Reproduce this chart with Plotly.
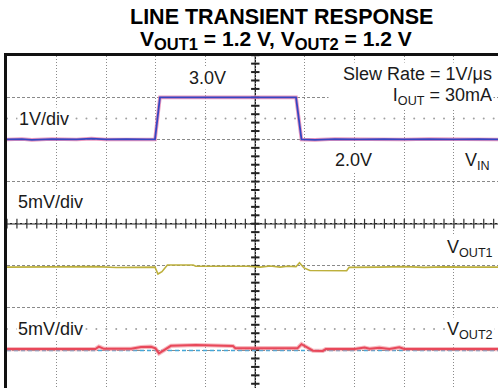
import numpy as np
import plotly.graph_objects as go

# ---------------- data (read from the scope capture) ----------------
# time in microseconds (10 us / div), VIN in volts (1 V/div),
# VOUT deviations in mV (5 mV/div)
vin_t = [0, 3, 5, 9, 14, 17, 20, 24, 28, 29.8, 30.8, 40, 50, 58.2, 59.3,
         62, 66, 71, 76, 80, 85, 90, 95, 98.9]
vin_v = [2.00, 2.01, 1.99, 2.01, 2.00, 2.02, 2.00, 2.01, 2.00, 2.00, 3.00, 3.00,
         3.00, 3.00, 2.00, 1.99, 2.01, 2.00, 2.01, 2.00, 2.01, 2.00, 2.01, 2.00]

vout1_t = [0, 4, 7, 12, 18, 22, 26, 29.8, 30.4, 31.2, 32.3, 37.5, 38.0, 48.5,
           51, 53, 55, 56.5, 58.2, 58.9, 59.8, 61.0, 68.4, 68.9, 75, 80, 84, 88,
           93, 98.9]
vout1_mv = [-0.15, -0.15, -0.10, -0.15, -0.10, -0.20, -0.15, -0.15, -0.97, -0.70,
            0.10, 0.10, -0.05, -0.05, -0.15, -0.02, -0.15, -0.05, -0.10, 0.37,
            -0.25, -0.55, -0.58, -0.18, -0.15, -0.10, -0.18, -0.12, -0.15, -0.15]

vout2_t = [0, 8, 12, 17.8, 18.5, 19.5, 25, 27, 29, 29.9, 30.6, 31.5, 33, 38, 42,
           45.5, 46, 52, 58.5, 59.3, 60.3, 61.6, 63.6, 64.2, 70, 72, 73, 75, 77,
           79, 80, 88, 93, 98.9]
vout2_mv = [0.12, 0.12, 0.15, 0.12, 0.40, 0.15, 0.15, 0.35, 0.40, 0.20, -0.39,
            -0.05, 0.50, 0.60, 0.55, 0.48, 0.22, 0.20, 0.22, 0.70, 0.40, -0.08,
            -0.10, 0.12, 0.12, 0.30, 0.15, 0.28, 0.12, 0.32, 0.14, 0.12, 0.15, 0.12]

ref2_t = [0, 98.9]
ref2_mv = [-0.05, -0.05]

# scope settings (channel scale / offsets in divisions)
T_PER_DIV = 10.0
VIN_PER_DIV = 1.0
MV_PER_DIV = 5.0
CH1_OFFSET = -1.0
CH2_OFFSET = -3.0

W, H = 498, 388
L, T = 7, 56
X_MAX = (W - L) / 49.66
Y_TOP = (223.7 - T) / 42.12
Y_BOT = (223.7 - H) / 42.12

FONT = "Liberation Sans, Arial, Helvetica, sans-serif"


def xd(t):
    return np.asarray(t, float) / T_PER_DIV


fig = go.Figure()

# graticule dot rows at +/-2.5 div
gx = np.arange(0, X_MAX, 0.2)
fig.add_trace(go.Scatter(x=np.concatenate([gx, gx]),
                         y=np.concatenate([np.full(gx.size, 2.5), np.full(gx.size, -2.5)]),
                         mode="markers", marker=dict(size=2.0, color="#a0a0a0"),
                         hoverinfo="skip", showlegend=False))
# crosshair minor ticks
fig.add_trace(go.Scatter(x=gx, y=np.zeros(gx.size), mode="markers",
                         marker=dict(symbol="line-ns", size=7, line=dict(width=1.2, color="#333")),
                         hoverinfo="skip", showlegend=False))
gy = np.arange(-4, 4.01, 0.2)
fig.add_trace(go.Scatter(x=np.full(gy.size, 5.0), y=gy, mode="markers",
                         marker=dict(symbol="line-ew", size=6, line=dict(width=2, color="#222")),
                         hoverinfo="skip", showlegend=False))

# VIN (blue with pink halo)
fig.add_trace(go.Scatter(x=xd(vin_t), y=np.asarray(vin_v) / VIN_PER_DIV, mode="lines",
                         line=dict(color="rgba(230,120,170,0.75)", width=3.6),
                         hoverinfo="skip", showlegend=False))
fig.add_trace(go.Scatter(x=xd(vin_t), y=np.asarray(vin_v) / VIN_PER_DIV, mode="lines",
                         line=dict(color="#3546c2", width=1.8), name="VIN", showlegend=False))

# VOUT1 (olive)
fig.add_trace(go.Scatter(x=xd(vout1_t), y=CH1_OFFSET + np.asarray(vout1_mv) / MV_PER_DIV,
                         mode="lines", line=dict(color="#bdb03c", width=1.6),
                         name="VOUT1", showlegend=False))

# VOUT2 reference (cyan) and trace (red with halo)
fig.add_trace(go.Scatter(x=xd(ref2_t), y=CH2_OFFSET + np.asarray(ref2_mv) / MV_PER_DIV,
                         mode="lines", line=dict(color="#45a8d8", width=1.4, dash="4px,3px"),
                         hoverinfo="skip", showlegend=False))
fig.add_trace(go.Scatter(x=xd(vout2_t), y=CH2_OFFSET + np.asarray(vout2_mv) / MV_PER_DIV,
                         mode="lines", line=dict(color="rgba(240,130,140,0.55)", width=4.2),
                         hoverinfo="skip", showlegend=False))
fig.add_trace(go.Scatter(x=xd(vout2_t), y=CH2_OFFSET + np.asarray(vout2_mv) / MV_PER_DIV,
                         mode="lines", line=dict(color="#e8485a", width=2.0),
                         name="VOUT2", showlegend=False))

# crosshair lines
fig.add_shape(type="line", xref="x", yref="y", x0=5, x1=5, y0=Y_BOT, y1=Y_TOP,
              line=dict(color="#111", width=1.3), layer="below")
fig.add_shape(type="line", xref="x", yref="y", x0=0, x1=X_MAX, y0=0, y1=0,
              line=dict(color="#222", width=1.6), layer="below")


def P(px, py):
    return (px - L) / (W - L), (H - py) / (H - T)


def label(text, px, py, xanchor, size=18, width=None, align="left"):
    x, y = P(px, py)
    fig.add_annotation(text=text, x=x, y=y, xref="paper", yref="paper",
                       xanchor=xanchor, yanchor="middle", showarrow=False,
                       font=dict(family=FONT, size=size, color="#1a1a1a"),
                       bgcolor="white", borderpad=1, width=width, align=align)


label("3.0V", 207, 78.5, "center")
label("Slew Rate = 1V/\u03bcs", 494, 74, "right", width=162, align="right")
label("I<sub>OUT</sub> = 30mA", 494, 96, "right", width=162, align="right")
label("1V/div", 17, 118.5, "left")
label("2.0V", 353, 160, "center")
label("V<sub>IN</sub>", 492, 161, "right")
label("5mV/div", 16, 202, "left")
label("V<sub>OUT1</sub>", 495, 248, "right")
label("5mV/div", 16, 329, "left")
label("V<sub>OUT2</sub>", 495, 330, "right")

# title
SUB = "<sub><span style='font-size:16.5px'>{}</span></sub>"
tx, ty = P(281, 17.5)
fig.add_annotation(text="<b>LINE TRANSIENT RESPONSE</b>", x=tx, y=ty, xref="paper", yref="paper",
                   xanchor="center", yanchor="middle", showarrow=False,
                   font=dict(family=FONT, size=21.5, color="black"))
tx, ty = P(276, 39.5)
fig.add_annotation(text="<b>V" + SUB.format("OUT1") + " = 1.2 V, V" + SUB.format("OUT2") + " = 1.2 V</b>",
                   x=tx, y=ty, xref="paper", yref="paper", xanchor="center", yanchor="middle",
                   showarrow=False, font=dict(family=FONT, size=21, color="black"))

fig.update_layout(
    width=W, height=H, margin=dict(l=L, r=0, t=T, b=0),
    paper_bgcolor="white", plot_bgcolor="white",
    xaxis=dict(range=[0, X_MAX], dtick=1, tick0=0, showgrid=True, gridcolor="#8a8a8a",
               griddash="1px,2px", gridwidth=1, zeroline=False, showticklabels=False,
               ticks="", showline=True, linecolor="#111", linewidth=3, side="top",
               fixedrange=True),
    yaxis=dict(range=[Y_BOT, Y_TOP], dtick=1, tick0=0, showgrid=True, gridcolor="#8a8a8a",
               griddash="3px,2px", gridwidth=1, zeroline=False, showticklabels=False,
               ticks="", showline=True, linecolor="#111", linewidth=3, fixedrange=True),
    showlegend=False,
)

fig.write_html("out.html", config={"displayModeBar": False},
               post_script="document.body.style.margin='0';")
